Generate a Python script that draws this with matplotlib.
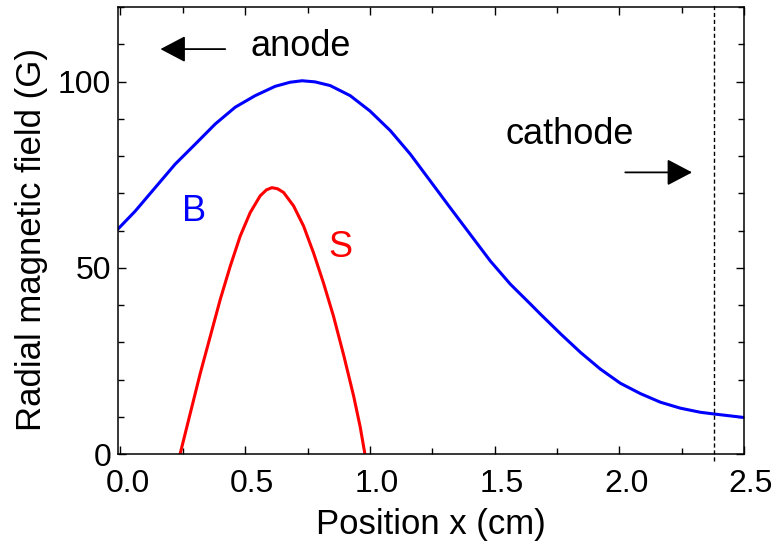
import matplotlib
matplotlib.use("Agg")
import matplotlib.pyplot as plt
from matplotlib.ticker import MultipleLocator, FormatStrFormatter
from matplotlib.transforms import ScaledTranslation

plt.rcParams.update({"font.family": "Liberation Sans", "font.size": 24})

# B: radial magnetic field profile
b_x = [-0.01, 0.059, 0.139, 0.219, 0.30, 0.38, 0.46, 0.54, 0.62, 0.68, 0.728, 0.78,
       0.841, 0.921, 1.0, 1.082, 1.162, 1.242, 1.322, 1.403, 1.483, 1.563, 1.643,
       1.683, 1.764, 1.844, 1.924, 2.004, 2.085, 2.165, 2.245, 2.325, 2.385, 2.5]
b_y = [60.4, 65.2, 71.5, 77.8, 83.2, 88.6, 93.1, 96.2, 98.7, 99.8, 100.2, 99.9,
       98.9, 96.2, 92.1, 86.8, 80.5, 73.3, 66.1, 58.9, 51.8, 45.6, 40.3,
       37.6, 32.3, 27.3, 22.8, 19.0, 16.2, 13.9, 12.3, 11.2, 10.7, 9.8]

# S profile
s_x = [0.239, 0.28, 0.32, 0.36, 0.40, 0.44, 0.48, 0.52, 0.56, 0.585, 0.607, 0.63,
       0.654, 0.694, 0.734, 0.774, 0.814, 0.854, 0.895, 0.935, 0.961, 0.98]
s_y = [0.0, 11.0, 21.7, 31.6, 41.5, 50.4, 58.5, 64.8, 69.3, 70.9, 71.5, 71.2,
       70.2, 66.6, 61.2, 54.0, 45.9, 37.0, 26.5, 15.5, 7.3, 0.0]

cathode_x = 2.38

fig = plt.figure(figsize=(7.81, 5.51), dpi=100)
ax = fig.add_axes([118/781, 1-454/551, 626/781, 447/551])

ax.plot(b_x, b_y, color="#0000FF", lw=2.2, solid_joinstyle="round")
ax.plot(s_x, s_y, color="#FF0000", lw=2.2, solid_joinstyle="round")
ax.axvline(cathode_x, ymin=-0.015, ymax=1.01, color="black", lw=1.0,
           ls=(0, (3, 2)), clip_on=False)

ax.set_xlim(-0.01, 2.5)
ax.set_ylim(0, 120)
ax.xaxis.set_major_locator(MultipleLocator(0.5))
ax.xaxis.set_minor_locator(MultipleLocator(0.25))
ax.xaxis.set_major_formatter(FormatStrFormatter("%.1f"))
ax.yaxis.set_major_locator(MultipleLocator(50))
ax.yaxis.set_minor_locator(MultipleLocator(10))
ax.tick_params(which="both", direction="in", top=True, right=True, width=1.0)
ax.tick_params(which="major", length=5.5)
ax.tick_params(which="minor", length=4)
ax.tick_params(axis="x", which="major", pad=11, labelsize=23)
ax.tick_params(axis="y", which="major", pad=5, labelsize=23)
for sp in ax.spines.values():
    sp.set_linewidth(1.1)

# tick labels sit a little right of their ticks in the original
shift = ScaledTranslation(0.07, 0, fig.dpi_scale_trans)
for lab in ax.get_xticklabels():
    lab.set_transform(lab.get_transform() + shift)

ax.set_xlabel("Position x (cm)", fontsize=25, labelpad=6)
ax.set_ylabel("Radial magnetic field (G)", fontsize=25)
ax.yaxis.set_label_coords(-0.112, 0.48)

arrow = dict(arrowstyle="-|>,head_length=0.78,head_width=0.41", color="black",
             lw=1.3, mutation_scale=20, shrinkA=0, shrinkB=0)
ax.annotate("", xy=(0.16, 108.7), xytext=(0.42, 108.7), arrowprops=arrow)
ax.annotate("", xy=(2.292, 75.6), xytext=(2.024, 75.6), arrowprops=arrow)
ax.text(0.52, 106.9, "anode", fontsize=26, ha="left", va="baseline")
ax.text(1.543, 83.2, "cathode", fontsize=26, ha="left", va="baseline")
ax.text(0.247, 62.5, "B", fontsize=26, color="#0000FF", ha="left", va="baseline")
ax.text(0.833, 52.8, "S", fontsize=26, color="#FF0000", ha="left", va="baseline")

fig.savefig("out.png", dpi=100)
